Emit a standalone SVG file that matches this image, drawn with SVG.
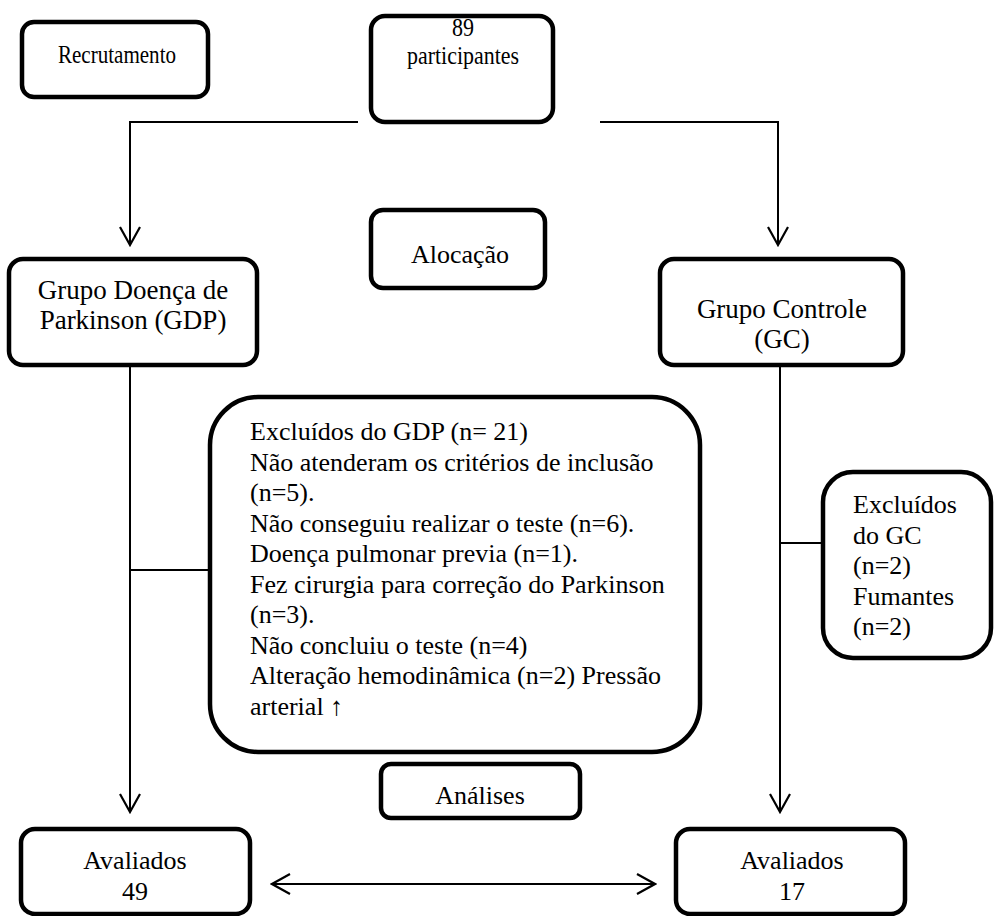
<svg xmlns="http://www.w3.org/2000/svg" width="995" height="916" viewBox="0 0 995 916">
<style>
.box{fill:#fff;stroke:#000;stroke-width:4.5}
text{font-family:'Liberation Serif','Times New Roman',serif;font-size:26px;fill:#000}
.c{text-anchor:middle}
.l{font-size:27px}
.ln{fill:none;stroke:#000;stroke-width:2}
</style>
<defs>
<marker id="ah" viewBox="-20 -12 22 24" refX="0" refY="0" markerWidth="22" markerHeight="24" markerUnits="userSpaceOnUse" orient="auto-start-reverse">
<path d="M-18,-10 L0,0 L-18,10" fill="none" stroke="#000" stroke-width="2.2"/>
</marker>
</defs>
<rect width="995" height="916" fill="#fff"/>
<g id="connectors">
<polyline class="ln" points="358,122 130,122 130,245" marker-end="url(#ah)"/>
<polyline class="ln" points="600,122 778,122 778,245" marker-end="url(#ah)"/>
<line class="ln" x1="130" y1="365" x2="130" y2="812" marker-end="url(#ah)"/>
<line class="ln" x1="130" y1="570" x2="210" y2="570"/>
<line class="ln" x1="780" y1="365" x2="780" y2="812" marker-end="url(#ah)"/>
<line class="ln" x1="780" y1="543" x2="823" y2="543"/>
<line class="ln" x1="272" y1="884" x2="655" y2="884" marker-start="url(#ah)" marker-end="url(#ah)"/>
</g>
<g id="recrutamento">
<rect class="box" x="22" y="22" width="186" height="75" rx="12"/>
<text class="c" x="117" y="63" textLength="118" lengthAdjust="spacingAndGlyphs">Recrutamento</text>
</g>
<g id="participantes">
<rect class="box" x="371" y="16" width="182" height="106" rx="14"/>
<text class="c" x="463" y="36" textLength="22" lengthAdjust="spacingAndGlyphs">89</text>
<text class="c" x="463" y="64" textLength="112" lengthAdjust="spacingAndGlyphs">participantes</text>
</g>
<g id="alocacao">
<rect class="box" x="371" y="210" width="174" height="78" rx="12"/>
<text class="c" x="460" y="263">Alocação</text>
</g>
<g id="gdp">
<rect class="box" x="9" y="259" width="248" height="106" rx="14"/>
<text class="c l" x="133" y="299">Grupo Doença de</text>
<text class="c l" x="133" y="329">Parkinson (GDP)</text>
</g>
<g id="gc">
<rect class="box" x="660" y="259" width="243" height="106" rx="14"/>
<text class="c l" x="782" y="318">Grupo Controle</text>
<text class="c l" x="782" y="348">(GC)</text>
</g>
<g id="excluidos-gdp">
<rect class="box" x="210" y="397" width="490" height="355" rx="48"/>
<text x="250" y="440">Excluídos do GDP (n= 21)</text>
<text x="250" y="470.5">Não atenderam os critérios de inclusão</text>
<text x="250" y="501">(n=5).</text>
<text x="250" y="531.5">Não conseguiu realizar o teste (n=6).</text>
<text x="250" y="562">Doença pulmonar previa (n=1).</text>
<text x="250" y="592.5">Fez cirurgia para correção do Parkinson</text>
<text x="250" y="623">(n=3).</text>
<text x="250" y="653.5">Não concluiu o teste (n=4)</text>
<text x="250" y="684">Alteração hemodinâmica (n=2) Pressão</text>
<text x="250" y="714.5">arterial ↑</text>
</g>
<g id="excluidos-gc">
<rect class="box" x="823" y="472" width="168" height="186" rx="30"/>
<text x="853" y="513">Excluídos</text>
<text x="853" y="543.5">do GC</text>
<text x="853" y="574">(n=2)</text>
<text x="853" y="604.5">Fumantes</text>
<text x="853" y="635">(n=2)</text>
</g>
<g id="analises">
<rect class="box" x="381" y="764" width="199" height="54" rx="10"/>
<text class="c" x="480" y="804">Análises</text>
</g>
<g id="avaliados-gdp">
<rect class="box" x="21" y="829" width="229" height="85" rx="14"/>
<text class="c" x="135" y="869">Avaliados</text>
<text class="c" x="135" y="900">49</text>
</g>
<g id="avaliados-gc">
<rect class="box" x="676" y="829" width="229" height="85" rx="14"/>
<text class="c" x="792" y="869">Avaliados</text>
<text class="c" x="792" y="900">17</text>
</g>
</svg>
